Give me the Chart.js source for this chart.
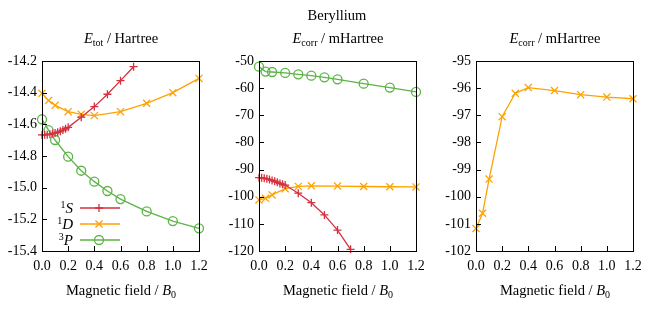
<!DOCTYPE html>
<html><head><meta charset="utf-8">
<script src="https://cdn.jsdelivr.net/npm/chart.js@4/dist/chart.umd.min.js"></script>
<style>
body{margin:0;background:#fff;width:650px;height:309px;overflow:hidden;position:relative;font-family:"Liberation Serif",serif;}
canvas{position:absolute;left:0;top:0;}
.t{position:absolute;font-size:14.5px;color:#000;white-space:nowrap;transform:translate(-50%,-50%);line-height:1;}
.l{position:absolute;font-size:15px;color:#000;white-space:nowrap;transform:translate(-100%,-50%);line-height:1;}
sub{font-size:10px;vertical-align:-3px;font-style:normal;}
sup{font-size:10px;vertical-align:5px;}
</style></head><body>
<canvas id="c1" width="650" height="309"></canvas>
<canvas id="c2" width="650" height="309"></canvas>
<canvas id="c3" width="650" height="309"></canvas>
<div class="t" style="left:337px;top:15px">Beryllium</div>
<div class="t" style="left:121px;top:39px"><i>E</i><sub>tot</sub> / Hartree</div>
<div class="t" style="left:338px;top:39px"><i>E</i><sub>corr</sub> / mHartree</div>
<div class="t" style="left:555px;top:39px"><i>E</i><sub>corr</sub> / mHartree</div>
<div class="t" style="left:121px;top:291px">Magnetic field / <i>B</i><sub>0</sub></div>
<div class="t" style="left:338px;top:291px">Magnetic field / <i>B</i><sub>0</sub></div>
<div class="t" style="left:555px;top:291px">Magnetic field / <i>B</i><sub>0</sub></div>
<div class="l" style="left:73px;top:208px"><sup>1</sup><i>S</i></div>
<div class="l" style="left:73px;top:224px"><sup>1</sup><i>D</i></div>
<div class="l" style="left:73px;top:240px"><sup>3</sup><i>P</i></div>
<script>
// ---- data ----
const fieldS = [0,0.02,0.04,0.06,0.08,0.1,0.12,0.14,0.16,0.18,0.2,0.3,0.4,0.5,0.6,0.7];
const etotS  = [-14.667,-14.6665,-14.665,-14.663,-14.659,-14.655,-14.650,-14.643,-14.636,-14.628,-14.619,-14.555,-14.488,-14.41,-14.324,-14.236];
const ecorrS = [-93.0,-93.05,-93.2,-93.4,-93.7,-94.0,-94.3,-94.7,-95.1,-95.4,-95.7,-98.7,-102.2,-106.7,-112.3,-119.4];
const fieldD = [0,0.05,0.1,0.2,0.3,0.4,0.6,0.8,1.0,1.2];
const etotD  = [-14.404,-14.45,-14.48,-14.52,-14.537,-14.545,-14.52,-14.467,-14.40,-14.31];
const ecorrD = [-101.17,-100.61,-99.35,-97.05,-96.19,-95.98,-96.09,-96.24,-96.33,-96.39];
const fieldP = [0,0.05,0.1,0.2,0.3,0.4,0.5,0.6,0.8,1.0,1.2];
const etotP  = [-14.568,-14.636,-14.699,-14.804,-14.893,-14.962,-15.021,-15.072,-15.150,-15.211,-15.257];
const ecorrP = [-52.1,-53.9,-54.05,-54.4,-54.9,-55.4,-56.0,-56.75,-58.35,-59.8,-61.4];
const seriesNames = ['1S','1D','3P'];
const xTicks = [0,0.2,0.4,0.6,0.8,1.0,1.2];

const RED='#d5303e', ORANGE='#ffa200', GREEN='#5bb446';
const FONT={family:'"Liberation Serif", serif', size:14};

function pts(xs, ys){ return xs.map((x,i)=>({x:x,y:ys[i]})); }
function ds(label, xs, ys, color, style, r){
  return {label:label, data:pts(xs,ys), borderColor:color, backgroundColor:'rgba(0,0,0,0)',
    pointStyle:style, pointRadius:r, pointBorderWidth:1.3, borderWidth:1.3, showLine:true,
    pointBackgroundColor:'rgba(0,0,0,0)', pointBorderColor:color, clip:false, tension:0};
}

const frame = {
  id:'frame',
  afterDraw(chart){
    const ctx=chart.ctx, a=chart.chartArea;
    ctx.save();
    ctx.strokeStyle='#000'; ctx.lineWidth=1;
    const xs=chart.scales.x, ys=chart.scales.y;
    ctx.beginPath();
    ys.ticks.forEach(t=>{const y=Math.round(ys.getPixelForValue(t.value))+0.5; ctx.moveTo(a.left,y); ctx.lineTo(a.left+5,y);});
    xs.ticks.forEach(t=>{const x=Math.round(xs.getPixelForValue(t.value))+0.5; ctx.moveTo(x,a.bottom); ctx.lineTo(x,a.bottom-5);});
    ctx.stroke();
    ctx.strokeRect(Math.round(a.left)+0.5, Math.round(a.top)+0.5, Math.round(a.width), Math.round(a.height));
    ctx.restore();
  }
};

function drawMarker(ctx, style, x, y, r){
  ctx.beginPath();
  if(style==='cross'){ ctx.moveTo(x-r,y); ctx.lineTo(x+r,y); ctx.moveTo(x,y-r); ctx.lineTo(x,y+r); }
  else if(style==='crossRot'){ const d=r*0.7071; ctx.moveTo(x-d,y-d); ctx.lineTo(x+d,y+d); ctx.moveTo(x-d,y+d); ctx.lineTo(x+d,y-d); }
  else { ctx.arc(x,y,r,0,Math.PI*2); }
  ctx.stroke();
}
const legendPlugin = {
  id:'legendlines',
  afterDraw(chart){
    const ctx=chart.ctx; const rows=[208,224,240];
    ctx.save();
    chart.data.datasets.forEach((d,i)=>{
      ctx.strokeStyle=d.borderColor; ctx.lineWidth=1.3;
      ctx.beginPath(); ctx.moveTo(80,rows[i]); ctx.lineTo(120,rows[i]); ctx.stroke();
      drawMarker(ctx,d.pointStyle,99,rows[i],d.pointRadius);
    });
    ctx.restore();
  }
};

function make(id, left, right, datasets, ymin, ymax, ystep, dec, plugins){
  return new Chart(document.getElementById(id), {
    type:'scatter',
    data:{datasets:datasets},
    options:{
      responsive:false, animation:false, devicePixelRatio:1,
      layout:{padding:{left:0, right:650-right, top:61, bottom:30}},
      plugins:{legend:{display:false}, tooltip:{enabled:false}, title:{display:false}},
      scales:{
        x:{type:'linear', min:0, max:1.2,
          afterBuildTicks(s){ s.ticks = xTicks.map(v=>({value:v})); },
          afterFit(s){ s.height=28; },
          ticks:{callback:v=>Number(v).toFixed(1), font:FONT, color:'#000', padding:7, maxRotation:0, autoSkip:false},
          grid:{display:false, drawTicks:false}, border:{display:false}},
        y:{type:'linear', min:ymin, max:ymax,
          afterBuildTicks(s){ const t=[]; const n=Math.round((ymax-ymin)/ystep); for(let i=0;i<=n;i++){ t.push({value:+(ymin+i*ystep).toFixed(6)}); } s.ticks=t; },
          afterFit(s){ s.width=left; },
          ticks:{callback:v=>Number(v).toFixed(dec), font:FONT, color:'#000', padding:5, autoSkip:false},
          grid:{display:false, drawTicks:false}, border:{display:false}}
      }
    },
    plugins:plugins
  });
}

make('c1', 42, 199, [
  ds(seriesNames[0], fieldS, etotS, RED, 'cross', 4),
  ds(seriesNames[1], fieldD, etotD, ORANGE, 'crossRot', 5),
  ds(seriesNames[2], fieldP, etotP, GREEN, 'circle', 4.5)
], -15.4, -14.2, 0.2, 1, [frame, legendPlugin]);

make('c2', 259, 416, [
  ds(seriesNames[0], fieldS, ecorrS, RED, 'cross', 4),
  ds(seriesNames[1], fieldD, ecorrD, ORANGE, 'crossRot', 5),
  ds(seriesNames[2], fieldP, ecorrP, GREEN, 'circle', 4.5)
], -120, -50, 10, 0, [frame]);

make('c3', 476, 633, [
  ds(seriesNames[1], fieldD, ecorrD, ORANGE, 'crossRot', 5)
], -102, -95, 1, 0, [frame]);
</script>
</body></html>
